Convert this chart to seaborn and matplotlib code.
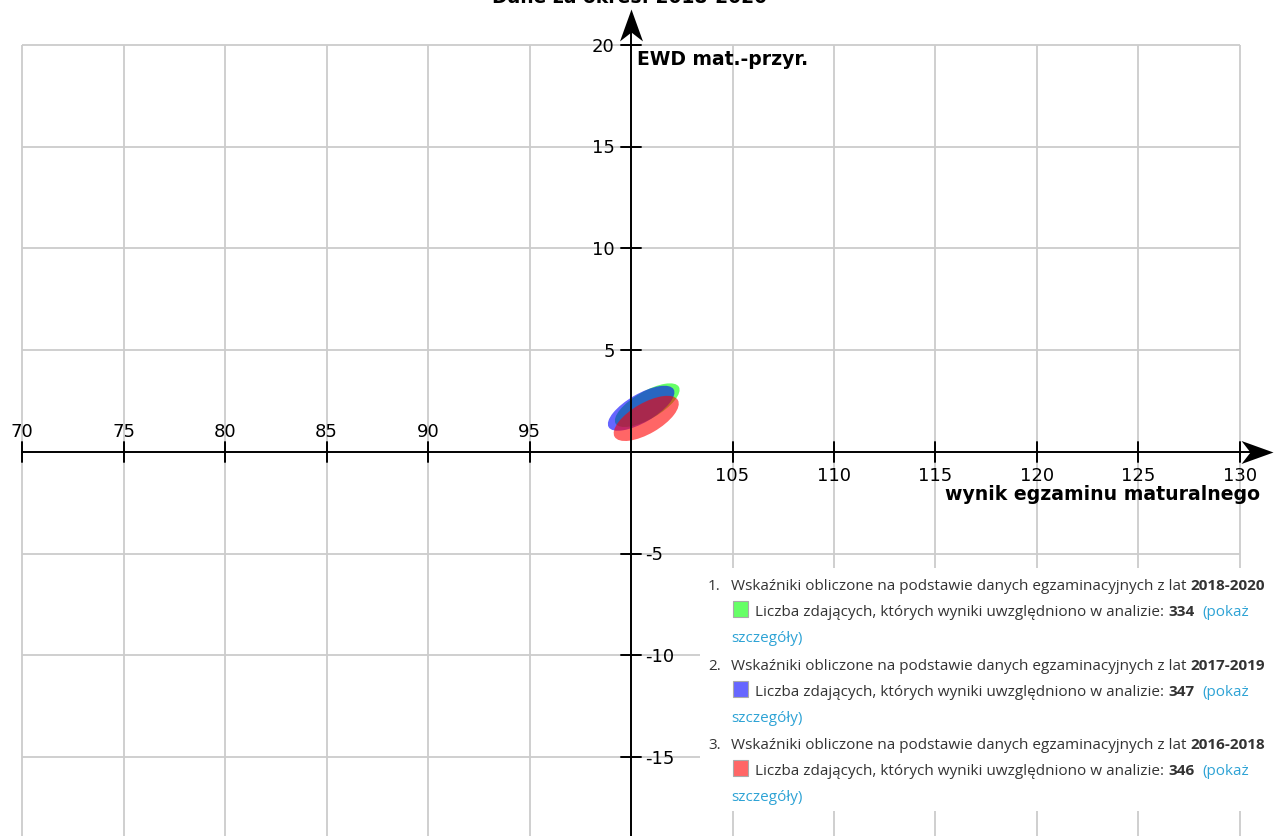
import numpy as np
import pandas as pd
import matplotlib.pyplot as plt
import seaborn as sns
from matplotlib.patches import Ellipse, Rectangle
from matplotlib.path import Path

# ---- dane ----
okresy = ["2018-2020", "2017-2019", "2016-2018"]
liczba_zdajacych = [334, 347, 346]
wynik_sr = [100.8, 100.5, 100.75]      # środek elipsy - wynik egzaminu maturalnego
ewd_sr = [2.3, 2.15, 1.65]             # środek elipsy - EWD mat.-przyr.
elipsa_dl = [3.6, 3.7, 3.6]            # długość osi długiej
elipsa_kr = [1.35, 1.4, 1.5]           # długość osi krótkiej
elipsa_kat = [30, 30, 30]
kolory = ["#00ff00", "#0000ff", "#ff0000"]
kolory_leg = ["#66ff66", "#6666ff", "#ff6666"]

x_ticks = list(range(70, 131, 5))
y_ticks = [-15, -10, -5, 5, 10, 15, 20]

df = pd.DataFrame({"okres": okresy, "n": liczba_zdajacych,
                   "wynik": wynik_sr, "ewd": ewd_sr,
                   "dl": elipsa_dl, "kr": elipsa_kr, "kat": elipsa_kat,
                   "kolor": kolory, "kolor_leg": kolory_leg})

sns.set_theme(style="white")
plt.rcParams['font.family'] = ['DejaVu Sans']
plt.rcParams['text.color'] = 'black'

W, H = 1274, 836
fig = plt.figure(figsize=(W / 100, H / 100), dpi=100)
ax = fig.add_axes([0, 0, 1, 1])
ax.set_xlim(68.916, 131.675)
ax.set_ylim(-18.87, 22.21)
ax.axis('off')


def fx(px):
    return px / W


def fy(py):
    return 1 - py / H


# siatka
grid_c = '#cccccc'
ax.vlines(x_ticks, -18.87, 20, color=grid_c, lw=1.3, zorder=0)
ax.hlines(y_ticks, 70, 130, color=grid_c, lw=1.3, zorder=0)

# elipsy
for _, r in df.iterrows():
    ax.add_patch(Ellipse((r['wynik'], r['ewd']), r['dl'], r['kr'],
                         angle=r['kat'], facecolor=r['kolor'], alpha=0.6,
                         edgecolor='none', zorder=3))

# osie ze strzałkami (grot typu "stealth", czubek w punkcie (0, 0))
grot_x = Path([(0, 0), (-1, 0.36), (-0.72, 0), (-1, -0.36), (0, 0)],
              [Path.MOVETO, Path.LINETO, Path.LINETO, Path.LINETO, Path.CLOSEPOLY])
grot_y = Path([(0, 0), (0.36, -1), (0, -0.72), (-0.36, -1), (0, 0)],
              [Path.MOVETO, Path.LINETO, Path.LINETO, Path.LINETO, Path.CLOSEPOLY])
ax.plot([70, 131.0], [0, 0], color='black', lw=1.4, zorder=5)
ax.plot([100, 100], [-18.9, 21.0], color='black', lw=1.4, zorder=5)
ax.plot([131.65], [0], marker=grot_x, ms=46, color='black', mew=0, zorder=6)
ax.plot([100], [21.75], marker=grot_y, ms=46, color='black', mew=0, zorder=6)

tick_fs = 13
for t in x_ticks:
    if t == 100:
        continue
    ax.plot([t, t], [-0.5, 0.5], color='black', lw=1.4, zorder=5)
    if t < 100:
        ax.text(t, 0.74, str(t), ha='center', va='baseline', fontsize=tick_fs)
    else:
        ax.text(t, -1.43, str(t), ha='center', va='baseline', fontsize=tick_fs)

for t in y_ticks:
    ax.plot([99.5, 100.5], [t, t], color='black', lw=1.4, zorder=5)
    if t > 0:
        ax.text(99.2, t - 0.33, str(t), ha='right', va='baseline', fontsize=tick_fs)
    else:
        ax.text(100.72, t - 0.33, str(t), ha='left', va='baseline', fontsize=tick_fs)

ax.text(100.3, 19.02, 'EWD mat.-przyr.', ha='left', va='baseline',
        fontsize=13.5, fontweight='bold')
ax.text(131.0, -2.36, 'wynik egzaminu maturalnego', ha='right', va='baseline',
        fontsize=13.6, fontweight='bold')

fig.text(fx(630), fy(3), 'Dane za okres: 2018-2020', ha='center', va='baseline',
         fontsize=13.5, fontweight='bold')

# legenda
fig.patches.append(Rectangle((fx(700), fy(811)), fx(1274) - fx(700), fy(568) - fy(811),
                             transform=fig.transFigure, facecolor='white',
                             edgecolor='none', zorder=1))

renderer = fig.canvas.get_renderer()
leg_font = dict(family=['Open Sans', 'DejaVu Sans'], fontsize=11)
txt_c = '#333333'
link_c = '#2ea3d5'


def width(s, **kw):
    t = fig.text(0, 0, s, **kw)
    w = t.get_window_extent(renderer).width
    t.remove()
    return w


space_w = width('x x', **leg_font) - width('xx', **leg_font)


def runs(x, y, parts):
    for s, w, c in parts:
        t = fig.text(fx(x), fy(y), s, ha='left', va='baseline', color=c,
                     fontweight=w, zorder=3, **leg_font)
        x += t.get_window_extent(renderer).width + space_w
    return x


for i, r in df.iterrows():
    base = 590 + 79.5 * i
    fig.text(fx(708), fy(base), f'{i + 1}.', ha='left', va='baseline',
             color=txt_c, zorder=3, **leg_font)
    runs(731, base, [('Wskaźniki obliczone na podstawie danych egzaminacyjnych z lat',
                      'normal', txt_c),
                     (r['okres'], 'bold', txt_c)])
    fig.patches.append(Rectangle((fx(733), fy(base + 27)), 15 / W, 16 / H,
                                 transform=fig.transFigure, facecolor=r['kolor_leg'],
                                 edgecolor='#aaaaaa', lw=0.8, zorder=3))
    xe = runs(755, base + 26, [('Liczba zdających, których wyniki uwzględniono w analizie:',
                                'normal', txt_c),
                               (str(r['n']), 'bold', txt_c)])
    runs(xe + space_w, base + 26, [('(pokaż', 'normal', link_c)])
    runs(731, base + 52, [('szczegóły)', 'normal', link_c)])

plt.savefig('out.png', dpi=100)
plt.close()
